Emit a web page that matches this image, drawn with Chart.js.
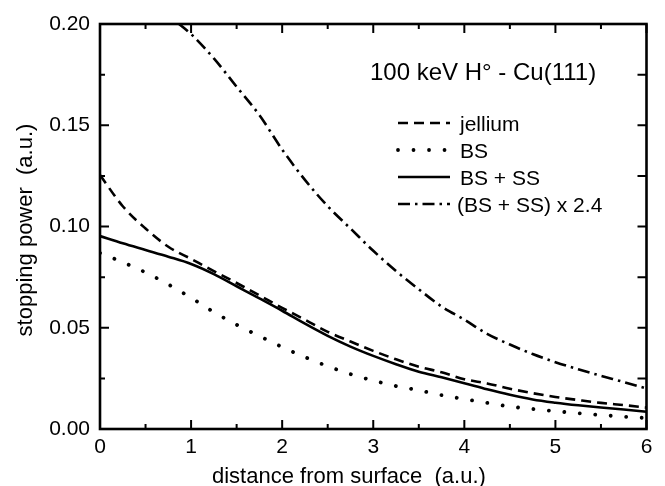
<!DOCTYPE html>
<html>
<head>
<meta charset="utf-8">
<script src="https://cdn.jsdelivr.net/npm/chart.js@4"></script>
<style>
  html, body { margin: 0; padding: 0; background: #fff; }
  #wrap { width: 665px; height: 486px; }
</style>
</head>
<body>
<div id="wrap"><canvas id="chart" width="665" height="486"></canvas></div>
<script>
// distance from surface (a.u.)
const distance = [0, 0.25, 0.5, 0.75, 1, 1.25, 1.5, 1.75, 2, 2.25, 2.5, 2.75, 3,
  3.25, 3.5, 3.75, 4, 4.25, 4.5, 4.75, 5, 5.25, 5.5, 5.75, 6];

// stopping power (a.u.)
const jellium = [0.1254, 0.1100, 0.0990, 0.0900, 0.0840, 0.0780, 0.0721, 0.0660, 0.0598,
  0.0540, 0.0480, 0.0432, 0.0386, 0.0344, 0.0308, 0.0280, 0.0246, 0.0225, 0.0199,
  0.0177, 0.0158, 0.0143, 0.0129, 0.0118, 0.0106];
const bs = [0.0869, 0.0824, 0.0773, 0.0714, 0.0648, 0.0577, 0.0515, 0.0459, 0.0405,
  0.0355, 0.0310, 0.0271, 0.0239, 0.0212, 0.0191, 0.0167, 0.0148, 0.0129, 0.0111,
  0.0099, 0.0088, 0.0078, 0.0069, 0.0061, 0.0054];
const bsSs = [0.0953, 0.0917, 0.0884, 0.0851, 0.0815, 0.0765, 0.0705, 0.0645, 0.0584,
  0.0520, 0.0460, 0.0407, 0.0361, 0.0320, 0.0283, 0.0255, 0.0226, 0.0196, 0.0169,
  0.0146, 0.0130, 0.0117, 0.0106, 0.0096, 0.0085];
const bsSsScaled = [0.229, 0.220, 0.212, 0.204, 0.195, 0.183, 0.169, 0.155, 0.138,
  0.123, 0.110, 0.099, 0.088, 0.078, 0.069, 0.0605, 0.054, 0.047, 0.0417,
  0.0370, 0.0330, 0.0295, 0.0263, 0.0232, 0.0200];

const xTicks = [0, 1, 2, 3, 4, 5, 6];
const yTicks = [0, 0.05, 0.10, 0.15, 0.20];
const labels = ['jellium', 'BS', 'BS + SS', '(BS + SS) x 2.4'];

const FONT = "'Liberation Sans', Arial, Helvetica, sans-serif";

const toPoints = ys => distance.map((x, i) => ({ x: x, y: ys[i] }));

function series(label, ys, extra) {
  return Object.assign({
    label: label,
    data: toPoints(ys),
    borderColor: '#000',
    backgroundColor: '#000',
    borderWidth: 2.6,
    pointRadius: 0,
    fill: false,
    cubicInterpolationMode: 'monotone',
    clip: 0
  }, extra);
}

// inward ticks, frame, axis titles, note and legend
const decor = {
  id: 'decor',
  afterDatasetsDraw(chart) {
    const { ctx, chartArea: a, scales } = chart;
    const sx = scales.x, sy = scales.y;
    ctx.save();
    ctx.strokeStyle = '#000';
    ctx.fillStyle = '#000';
    ctx.lineWidth = 2;
    const maj = 9, min = 5;
    xTicks.forEach((v, i) => {
      const p = sx.getPixelForValue(v);
      ctx.beginPath();
      ctx.moveTo(p, a.bottom); ctx.lineTo(p, a.bottom - maj);
      ctx.moveTo(p, a.top); ctx.lineTo(p, a.top + maj);
      ctx.stroke();
      if (i < xTicks.length - 1) {
        const m = sx.getPixelForValue((v + xTicks[i + 1]) / 2);
        ctx.beginPath();
        ctx.moveTo(m, a.bottom); ctx.lineTo(m, a.bottom - min);
        ctx.moveTo(m, a.top); ctx.lineTo(m, a.top + min);
        ctx.stroke();
      }
    });
    yTicks.forEach((v, i) => {
      const p = sy.getPixelForValue(v);
      ctx.beginPath();
      ctx.moveTo(a.left, p); ctx.lineTo(a.left + maj, p);
      ctx.moveTo(a.right, p); ctx.lineTo(a.right - maj, p);
      ctx.stroke();
      if (i < yTicks.length - 1) {
        const m = sy.getPixelForValue((v + yTicks[i + 1]) / 2);
        ctx.beginPath();
        ctx.moveTo(a.left, m); ctx.lineTo(a.left + min, m);
        ctx.moveTo(a.right, m); ctx.lineTo(a.right - maj, m);
        ctx.stroke();
      }
    });
    ctx.lineWidth = 2.6;
    ctx.strokeRect(a.left, a.top, a.right - a.left, a.bottom - a.top);

    // axis titles
    ctx.font = '22px ' + FONT;
    ctx.textAlign = 'left';
    ctx.textBaseline = 'alphabetic';
    ctx.fillText('distance from surface  (a.u.)', 212, 483);
    ctx.save();
    ctx.translate(32, 230);
    ctx.rotate(-Math.PI / 2);
    ctx.textAlign = 'center';
    ctx.fillText('stopping power  (a.u.)', 0, 0);
    ctx.restore();

    // note
    ctx.font = '24px ' + FONT;
    ctx.fillText('100 keV H\u00b0 - Cu(111)', 370, 80);

    // legend
    ctx.font = '21px ' + FONT;
    chart.data.datasets.forEach((ds, i) => {
      const y = 123 + i * 27;
      ctx.save();
      ctx.lineWidth = ds.borderWidth;
      ctx.lineCap = ds.borderCapStyle || 'butt';
      ctx.setLineDash(ds.borderDash || []);
      ctx.beginPath();
      ctx.moveTo(398, y);
      ctx.lineTo(450, y);
      ctx.stroke();
      ctx.restore();
      ctx.fillText(ds.label, i === 3 ? 457 : 460, y + 7.5);
    });
    ctx.restore();
  }
};

new Chart(document.getElementById('chart'), {
  type: 'line',
  data: {
    datasets: [
      series(labels[0], jellium, { borderDash: [10, 6] }),
      series(labels[1], bs, { borderDash: [0.01, 15.5], borderCapStyle: 'round', borderWidth: 3.8 }),
      series(labels[2], bsSs, {}),
      series(labels[3], bsSsScaled, { borderDash: [12, 5, 2.5, 5] })
    ]
  },
  options: {
    responsive: false,
    animation: false,
    layout: { padding: { left: 0, right: 18.5, top: 24, bottom: 0 } },
    plugins: { legend: { display: false }, tooltip: { enabled: false } },
    scales: {
      x: {
        type: 'linear',
        min: 0, max: 6,
        afterFit: s => { s.height = 57; },
        afterBuildTicks: s => { s.ticks = xTicks.map(v => ({ value: v })); },
        grid: { display: false, drawTicks: false },
        border: { display: false },
        ticks: { color: '#000', padding: 6, font: { family: FONT, size: 21 } }
      },
      y: {
        type: 'linear',
        min: 0, max: 0.2,
        afterFit: s => { s.width = 100; },
        afterBuildTicks: s => { s.ticks = yTicks.map(v => ({ value: v })); },
        grid: { display: false, drawTicks: false },
        border: { display: false },
        ticks: {
          color: '#000', padding: 10, font: { family: FONT, size: 21 },
          callback: v => v.toFixed(2)
        }
      }
    }
  },
  plugins: [decor]
});
</script>
</body>
</html>
